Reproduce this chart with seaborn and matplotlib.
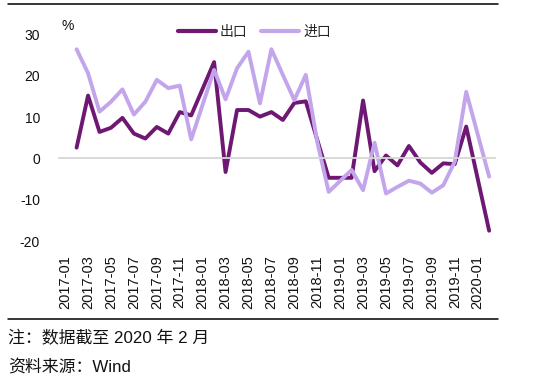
import matplotlib
matplotlib.use("Agg")
import matplotlib.pyplot as plt
from matplotlib.lines import Line2D
from matplotlib.ticker import MultipleLocator, FixedLocator
import pandas as pd
import seaborn as sns

# 月度数据（1、2月合并公布，记在2月）
months = ["2017-02", "2017-03", "2017-04", "2017-05", "2017-06", "2017-07",
          "2017-08", "2017-09", "2017-10", "2017-11", "2017-12",
          "2018-02", "2018-03", "2018-04", "2018-05", "2018-06", "2018-07",
          "2018-08", "2018-09", "2018-10", "2018-11", "2018-12",
          "2019-02", "2019-03", "2019-04", "2019-05", "2019-06", "2019-07",
          "2019-08", "2019-09", "2019-10", "2019-11", "2019-12",
          "2020-02"]
export_yoy = [2.6, 15.2, 6.4, 7.4, 9.8, 6.0, 4.8, 7.6, 6.0, 11.2, 10.4,
              23.3, -3.3, 11.7, 11.7, 10.1, 11.2, 9.3, 13.4, 13.8, 4.5, -4.7,
              -4.7, 14.0, -3.1, 0.7, -1.7, 3.0, -1.0, -3.5, -1.2, -1.4, 7.7,
              -17.5]
import_yoy = [26.4, 20.6, 11.3, 13.7, 16.7, 10.6, 13.7, 19.0, 17.0, 17.6, 4.6,
              21.4, 14.3, 21.8, 25.8, 13.3, 26.4, 20.2, 14.1, 20.2, 4.0, -8.1,
              -2.8, -7.7, 3.8, -8.5, -6.9, -5.4, -6.1, -8.3, -6.5, -0.8, 16.1,
              -4.4]
tick_labels = ["2017-01", "2017-03", "2017-05", "2017-07", "2017-09", "2017-11",
               "2018-01", "2018-03", "2018-05", "2018-07", "2018-09", "2018-11",
               "2019-01", "2019-03", "2019-05", "2019-07", "2019-09", "2019-11",
               "2020-01"]
series_names = ["出口", "进口"]
colors = ["#6e1873", "#c3a5ec"]

def month_index(s):
    y, m = s.split("-")
    return (int(y) - 2017) * 12 + int(m) - 1

df = pd.DataFrame({
    "m": [month_index(s) for s in months] * 2,
    "v": export_yoy + import_yoy,
    "s": [series_names[0]] * len(months) + [series_names[1]] * len(months),
})

sns.set_theme(style="white")
plt.rcParams["font.family"] = ["Liberation Sans", "Noto Sans CJK SC", "DejaVu Sans"]
plt.rcParams["axes.unicode_minus"] = False

fig = plt.figure(figsize=(5.45, 3.82), dpi=100)
ax = fig.add_axes([0.109, 0.369, 0.799, 0.541])

sns.lineplot(data=df, x="m", y="v", hue="s", palette=colors, linewidth=2.8,
             sort=False, legend=False, ax=ax)

ax.set_xlim(-0.5, 37.5)
ax.set_ylim(-20, 30)
ax.set_xlabel("")
ax.set_ylabel("")
ax.yaxis.set_major_locator(MultipleLocator(10))
ax.tick_params(axis="y", length=0, pad=14, labelsize=10, colors="#111111")

# 零轴及刻度
for side in ["top", "right", "left"]:
    ax.spines[side].set_visible(False)
ax.spines["bottom"].set_position(("data", 0))
ax.spines["bottom"].set_color("#d6d6d6")
ax.spines["bottom"].set_linewidth(1.3)
ax.xaxis.set_major_locator(FixedLocator([]))
ax.xaxis.set_minor_locator(MultipleLocator(2, offset=-0.5))
ax.tick_params(axis="x", which="minor", direction="in", length=4, width=1,
               color="#d6d6d6", labelbottom=False)

# 底部日期标签
sec = ax.secondary_xaxis("bottom")
sec.set_xticks(range(0, 38, 2))
sec.set_xticklabels(tick_labels, rotation=90)
sec.tick_params(length=0, pad=10, labelsize=10.5, colors="#111111")
sec.spines["bottom"].set_visible(False)

handles = [Line2D([], [], color=c, linewidth=3) for c in colors]
ax.legend(handles, series_names, loc="center", bbox_to_anchor=(0.448, 1.012),
          ncol=2, frameon=False, fontsize=10, handlelength=2.7,
          handletextpad=0.3, columnspacing=1.0, borderaxespad=0)
ax.text(0.02, 1.04, "%", transform=ax.transAxes, fontsize=10, ha="center",
        va="center", color="#111111")

# 上下分隔线与注释
fig.add_artist(Line2D([8 / 545, 498 / 545], [1 - 3.5 / 382, 1 - 3.5 / 382],
                      color="black", linewidth=1.1))
fig.add_artist(Line2D([8 / 545, 498 / 545], [1 - 319 / 382, 1 - 319 / 382],
                      color="black", linewidth=1.1))
fig.text(8 / 545, 1 - 338 / 382, "注：数据截至 2020 年 2 月", fontsize=12.2,
         va="center", ha="left", color="#111111")
fig.text(8 / 545, 1 - 367 / 382, "资料来源：Wind", fontsize=12.2,
         va="center", ha="left", color="#111111")

fig.savefig("out.png", dpi=100)
